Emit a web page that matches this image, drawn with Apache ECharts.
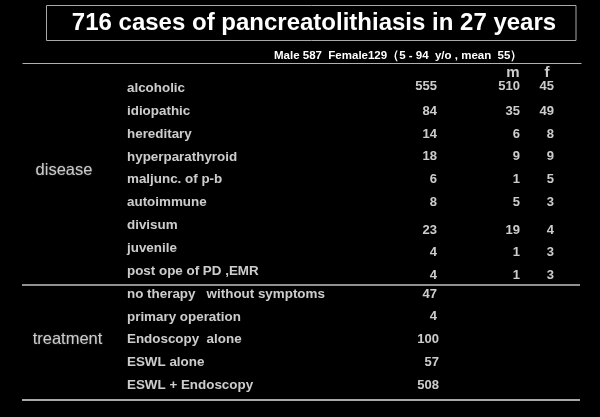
<!DOCTYPE html>
<html>
<head>
<meta charset="utf-8">
<script src="https://cdn.jsdelivr.net/npm/echarts@6/dist/echarts.min.js"></script>
<style>
html,body{margin:0;padding:0;background:#000;}
#c{width:600px;height:417px;}
</style>
</head>
<body>
<div id="c"></div>
<script>
// ---- data ----
const titleText = '716 cases of pancreatolithiasis in 27 years';
const subtitleText = 'Male 587  Female129\uFF085 - 94  y/o , mean  55\uFF09';
const groupNames = ['disease', 'treatment'];
const groupSizes = [9, 5];
const rowLabels = ['alcoholic', 'idiopathic', 'hereditary', 'hyperparathyroid', 'maljunc. of p-b',
  'autoimmune', 'divisum', 'juvenile', 'post ope of PD ,EMR',
  'no therapy   without symptoms', 'primary operation', 'Endoscopy  alone', 'ESWL alone', 'ESWL + Endoscopy'];
const totals = [555, 84, 14, 18, 6, 8, 23, 4, 4, 47, 4, 100, 57, 508];
const maleCounts = [510, 35, 6, 9, 1, 5, 19, 1, 1];
const femaleCounts = [45, 49, 8, 9, 5, 3, 4, 3, 3];
const sexHeaders = ['m', 'f'];

// ---- layout (styles / positions) ----
const FONT = 'Arial, "Liberation Sans", sans-serif';
const COL = { label: 127, total: 437, male: 520, female: 554, group: 64, mHead: 513, fHead: 547 };
const groupRowPos = [3.6, 11];
const headerRow = -0.68;

const chart = echarts.init(document.getElementById('c'), null, { renderer: 'canvas' });

function numShift(i) {
  if (i === 0) return [0, -1.5];
  if (i >= 6 && i <= 8) return [0, 4.5];
  return [0, 0];
}

const baseLabel = { show: true, color: '#fff', fontFamily: FONT, fontWeight: 'bold', fontSize: 13 };

const labelSeries = {
  type: 'scatter', symbolSize: 0, silent: true, clip: false,
  data: rowLabels.map((t, i) => ({ value: [COL.label, i], name: t })),
  label: Object.assign({}, baseLabel, { position: 'right', distance: 0, fontSize: 13.4, formatter: p => p.name })
};

function numberSeries(values, x, offsetFn) {
  return {
    type: 'scatter', symbolSize: 0, silent: true, clip: false,
    data: values.map((v, i) => ({ value: [x, i], name: String(v), label: { offset: offsetFn(i) } })),
    label: Object.assign({}, baseLabel, { position: 'left', distance: 0, formatter: p => p.name })
  };
}

const totalSeries = numberSeries(totals, COL.total, i => (i >= 11 ? [2, 0] : numShift(i)));
const maleSeries = numberSeries(maleCounts, COL.male, numShift);
const femaleSeries = numberSeries(femaleCounts, COL.female, numShift);

const headerSeries = {
  type: 'scatter', symbolSize: 0, silent: true, clip: false,
  data: sexHeaders.map((t, i) => ({ value: [i === 0 ? COL.mHead : COL.fHead, headerRow], name: t })),
  label: Object.assign({}, baseLabel, { position: 'inside', fontSize: 15, formatter: p => p.name })
};

const groupSeries = {
  type: 'scatter', symbolSize: 0, silent: true, clip: false,
  data: groupNames.map((t, i) => ({ value: [COL.group + (i === 1 ? 3.5 : 0), groupRowPos[i]], name: t })),
  label: {
    show: true, position: 'inside', color: '#f4f4f4', fontFamily: FONT, fontWeight: 'normal', fontSize: 16.5,
    textShadowColor: 'rgba(255,255,255,0.35)', textShadowBlur: 2, formatter: p => p.name
  }
};

const ROW_H = 22.86;
const FIRST_ROW_Y = 88.3;
const yMin = -1, yMax = rowLabels.length;

chart.setOption({
  backgroundColor: '#000',
  animation: false,
  grid: { left: 0, right: 0, top: FIRST_ROW_Y + yMin * ROW_H, height: (yMax - yMin) * ROW_H, containLabel: false },
  xAxis: { type: 'value', min: 0, max: 600, show: false },
  yAxis: { type: 'value', min: yMin, max: yMax, inverse: true, show: false },
  series: [labelSeries, totalSeries, maleSeries, femaleSeries, headerSeries, groupSeries],
  graphic: [
    { type: 'rect', shape: { x: 46.5, y: 5.5, width: 529.5, height: 35 }, style: { fill: 'none', stroke: '#a8a8a8', lineWidth: 1 }, silent: true },
    { type: 'text', style: { text: titleText, x: 314, y: 23.5, textAlign: 'center', textVerticalAlign: 'middle', fill: '#fff', font: 'bold 24px ' + FONT }, silent: true },
    { type: 'text', style: { text: subtitleText, x: 274, y: 56, textAlign: 'left', textVerticalAlign: 'middle', fill: '#fff', font: 'bold 11.5px ' + FONT }, silent: true },
    { type: 'line', shape: { x1: 22.5, y1: 63.5, x2: 581.5, y2: 63.5 }, style: { stroke: '#b0b0b0', lineWidth: 1.2 }, silent: true },
    { type: 'line', shape: { x1: 22, y1: 285, x2: 580, y2: 285 }, style: { stroke: '#909090', lineWidth: 2 }, silent: true },
    { type: 'line', shape: { x1: 22, y1: 400, x2: 580, y2: 400 }, style: { stroke: '#e0e0e0', lineWidth: 1.5 }, silent: true }
  ]
});
</script>
</body>
</html>
